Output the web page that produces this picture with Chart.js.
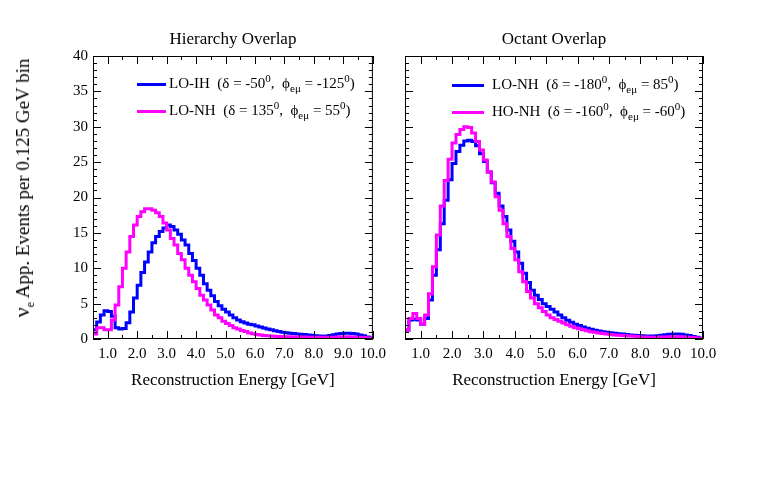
<!DOCTYPE html>
<html>
<head>
<meta charset="utf-8">
<script src="https://cdn.jsdelivr.net/npm/chart.js@4.4.0/dist/chart.umd.min.js"></script>
<style>
  body { margin: 0; background: #fff; font-family: "Liberation Serif", serif; }
  #wrap { position: relative; width: 763px; height: 477px; overflow: hidden; }
  .panel { position: absolute; top: 0; height: 477px; }
  .leg { position: absolute; font-size: 15px; white-space: nowrap; color: #000; line-height: 16px; }
  .sw { position: absolute; height: 3px; }
  sub, sup { font-size: 11px; line-height: 0; }
  #ytitle { position: absolute; left: 22px; top: 188px; transform: translate(-50%, -50%) rotate(-90deg);
            font-size: 19px; white-space: nowrap; }
  #ytitle sub { font-size: 12px; }
</style>
</head>
<body>
<div id="wrap">
  <div class="panel" style="left:0; width:392px;"><canvas id="hier"></canvas></div>
  <div class="panel" style="left:392px; width:371px;"><canvas id="oct"></canvas></div>
  <div id="ytitle"><span style="font-size:22px">&nu;</span><sub>e</sub> App. Events per 0.125 GeV bin</div>
</div>
<script>
// bin edges, 0.5 to 10.0 GeV, 0.125 GeV wide
const binEdges = [];
for (let i = 0; i <= 76; i++) binEdges.push(0.5 + 0.125 * i);

// Hierarchy overlap
const hierLOIH = [
  1.3, 2.4, 3.4, 4.0, 3.9, 3.2, 1.6, 1.4, 1.5, 2.3,
  3.8, 5.8, 7.6, 9.4, 10.9, 12.3, 13.6, 14.5, 15.2, 15.7,
  16.1, 15.9, 15.4, 14.8, 14.0, 13.3, 12.1, 11.1, 10.0, 9.0,
  7.8, 6.9, 6.1, 5.3, 4.7, 4.2, 3.8, 3.4, 3.0, 2.7,
  2.45, 2.25, 2.1, 2.0, 1.85, 1.7, 1.55, 1.4, 1.3, 1.15,
  1.05, 0.97, 0.9, 0.83, 0.77, 0.72, 0.67, 0.62, 0.57, 0.52,
  0.47, 0.42, 0.4, 0.42, 0.5, 0.6, 0.7, 0.78, 0.82, 0.82,
  0.78, 0.7, 0.58, 0.45, 0.3, 0.15
];
const hierLONH = [
  0.7, 1.6, 1.6, 1.3, 1.3, 2.7, 4.8, 7.4, 10.0, 12.3,
  14.5, 16.1, 17.3, 18.0, 18.4, 18.4, 18.2, 17.85, 17.3, 16.4,
  15.4, 14.2, 13.3, 12.1, 11.2, 10.0, 9.0, 8.1, 7.15, 6.2,
  5.5, 4.8, 4.1, 3.4, 3.0, 2.5, 2.2, 1.9, 1.6, 1.4,
  1.2, 1.05, 0.85, 0.75, 0.65, 0.57, 0.5, 0.45, 0.42, 0.4,
  0.37, 0.35, 0.33, 0.31, 0.3, 0.29, 0.28, 0.27, 0.26, 0.25,
  0.25, 0.24, 0.24, 0.24, 0.25, 0.26, 0.28, 0.3, 0.31, 0.31,
  0.3, 0.28, 0.24, 0.2, 0.15, 0.1
];

// Octant overlap
const octLONH = [
  1.27, 2.7, 2.8, 2.7, 2.1, 2.9, 5.5, 9.0, 12.6, 16.3,
  19.6, 22.5, 24.8, 26.5, 27.4, 28.0, 28.1, 27.9, 27.3, 26.2,
  25.1, 23.6, 22.1, 20.6, 18.8, 17.3, 15.4, 13.8, 12.3, 10.7,
  9.3, 8.0, 6.9, 6.2, 5.6, 5.0, 4.6, 4.2, 3.8, 3.4,
  3.0, 2.65, 2.35, 2.1, 1.9, 1.7, 1.52, 1.37, 1.25, 1.13,
  1.02, 0.95, 0.88, 0.8, 0.75, 0.69, 0.63, 0.58, 0.53, 0.49,
  0.45, 0.43, 0.42, 0.42, 0.45, 0.52, 0.6, 0.66, 0.7, 0.7,
  0.66, 0.58, 0.48, 0.36, 0.24, 0.12
];
const octHONH = [
  1.27, 2.9, 3.6, 2.9, 2.1, 3.4, 6.4, 10.2, 14.7, 18.8,
  22.4, 25.4, 27.7, 28.9, 29.6, 30.0, 29.9, 29.1, 27.9, 26.7,
  25.3, 23.6, 22.2, 20.1, 18.2, 16.3, 14.5, 12.8, 11.2, 9.5,
  8.1, 6.7, 5.8, 5.0, 4.4, 3.9, 3.4, 3.0, 2.75, 2.5,
  2.25, 2.0, 1.8, 1.6, 1.45, 1.3, 1.15, 1.04, 0.95, 0.85,
  0.77, 0.7, 0.63, 0.57, 0.52, 0.48, 0.45, 0.42, 0.38, 0.34,
  0.3, 0.27, 0.26, 0.25, 0.26, 0.28, 0.3, 0.32, 0.33, 0.33,
  0.32, 0.3, 0.26, 0.2, 0.15, 0.1
];

const xTicks = [1, 2, 3, 4, 5, 6, 7, 8, 9, 10];
const xMinorTicks = [0.5, 1.5, 2.5, 3.5, 4.5, 5.5, 6.5, 7.5, 8.5, 9.5];
const yTicks = [0, 5, 10, 15, 20, 25, 30, 35, 40];

const hierLegend = [
  { name: 'LO-IH', delta: '-50', phi: '-125', color: '#0000ff' },
  { name: 'LO-NH', delta: '135', phi: '55', color: '#ff00ff' }
];
const octLegend = [
  { name: 'LO-NH', delta: '-180', phi: '85', color: '#0000ff' },
  { name: 'HO-NH', delta: '-160', phi: '-60', color: '#ff00ff' }
];

Chart.defaults.font.family = '"Liberation Serif", serif';
Chart.defaults.font.size = 15;
Chart.defaults.color = '#000';

function steps(vals) {
  const pts = vals.map((v, i) => ({ x: binEdges[i], y: v }));
  pts.push({ x: binEdges[vals.length], y: vals[vals.length - 1] });
  return pts;
}

// ROOT-like frame with inward ticks, panel title and x axis title
const panelDecor = {
  id: 'panelDecor',
  afterDraw(chart, args, opts) {
    const { ctx, chartArea: a, scales: { x, y } } = chart;
    ctx.save();
    ctx.strokeStyle = '#000';
    ctx.lineWidth = 1;
    ctx.strokeRect(a.left + 0.5, a.top + 0.5, a.right - a.left - 1, a.bottom - a.top - 1);
    ctx.beginPath();
    const xt = (v, len) => {
      const px = Math.round(x.getPixelForValue(v)) + 0.5;
      ctx.moveTo(px, a.bottom); ctx.lineTo(px, a.bottom - len);
      ctx.moveTo(px, a.top); ctx.lineTo(px, a.top + len);
    };
    xTicks.forEach(v => xt(v, 8));
    xMinorTicks.forEach(v => xt(v, 4));
    for (let v = 0; v <= 40; v++) {
      const py = Math.round(y.getPixelForValue(v)) + 0.5;
      const len = v % 5 === 0 ? 8 : 4;
      ctx.moveTo(a.left, py); ctx.lineTo(a.left + len, py);
      ctx.moveTo(a.right, py); ctx.lineTo(a.right - len, py);
    }
    ctx.stroke();
    ctx.fillStyle = '#000';
    ctx.textAlign = 'center';
    ctx.textBaseline = 'middle';
    ctx.font = '17px "Liberation Serif", serif';
    const cx = (a.left + a.right) / 2;
    ctx.fillText(opts.title, cx, a.top - 16);
    ctx.fillText('Reconstruction Energy [GeV]', cx, a.bottom + 42);
    ctx.restore();
  }
};

function makePanel(id, title, series, legend, box) {
  new Chart(document.getElementById(id), {
    type: 'line',
    data: {
      datasets: series.map((vals, i) => ({
        label: legend[i].name,
        data: steps(vals),
        stepped: true,
        borderColor: legend[i].color,
        borderWidth: 3,
        pointRadius: 0,
        fill: false,
        order: series.length - i
      }))
    },
    options: {
      responsive: true,
      maintainAspectRatio: false,
      animation: false,
      layout: { padding: { top: 56, right: box.padRight, left: 0, bottom: 0 } },
      plugins: {
        legend: { display: false },
        tooltip: { enabled: false },
        panelDecor: { title: title }
      },
      scales: {
        x: {
          type: 'linear', min: 0.5, max: 10,
          afterBuildTicks: s => { s.ticks = xTicks.map(v => ({ value: v })); },
          afterFit: s => { s.height = 138; },
          grid: { display: false, drawTicks: false },
          border: { display: false },
          ticks: { padding: 6, maxRotation: 0, autoSkip: false, callback: v => v.toFixed(1) }
        },
        y: {
          min: 0, max: 40,
          afterBuildTicks: s => { s.ticks = yTicks.map(v => ({ value: v })); },
          afterFit: s => { s.width = box.axisWidth; },
          grid: { display: false, drawTicks: false },
          border: { display: false },
          ticks: { display: box.showY, padding: 5 }
        }
      }
    },
    plugins: [panelDecor]
  });

  const wrap = document.getElementById('wrap');
  legend.forEach((e, i) => {
    const yMid = box.legY[i];
    const sw = document.createElement('div');
    sw.className = 'sw';
    sw.style.left = box.swX[0] + 'px';
    sw.style.width = (box.swX[1] - box.swX[0]) + 'px';
    sw.style.top = (yMid - 1.5) + 'px';
    sw.style.background = e.color;
    wrap.appendChild(sw);
    const t = document.createElement('div');
    t.className = 'leg';
    t.style.left = box.textX + 'px';
    t.style.top = (yMid - 9) + 'px';
    t.innerHTML = `${e.name}&nbsp; (&delta; = ${e.delta}<sup>0</sup>,&nbsp; &#x3D5;<sub>e&mu;</sub> = ${e.phi}<sup>0</sup>)`;
    wrap.appendChild(t);
  });
}

makePanel('hier', 'Hierarchy Overlap', [hierLOIH, hierLONH], hierLegend,
  { axisWidth: 93, padRight: 13, showY: true, legY: [84, 111], swX: [137, 166], textX: 169 });
makePanel('oct', 'Octant Overlap', [octLONH, octHONH], octLegend,
  { axisWidth: 13, padRight: 60, showY: false, legY: [85, 112], swX: [452, 484], textX: 492 });
</script>
</body>
</html>
